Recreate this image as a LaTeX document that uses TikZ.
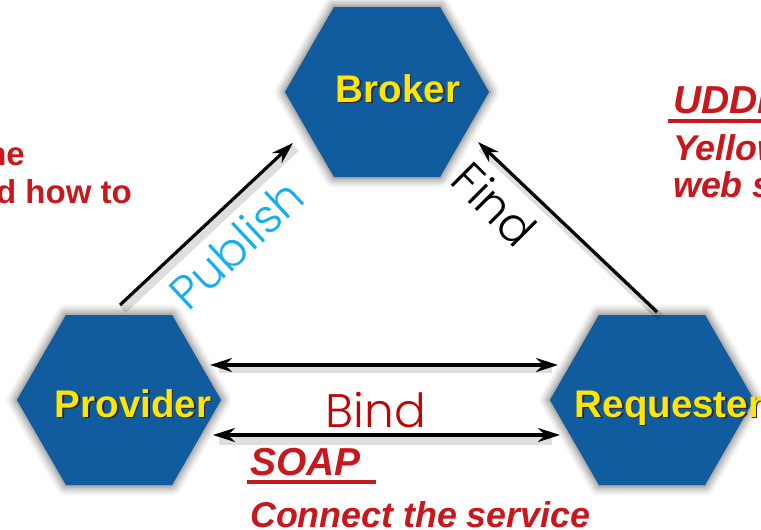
\documentclass[tikz,border=0pt]{standalone}
\usepackage{fontspec}
\setmainfont{Liberation Sans}
\newfontfamily\gothic{Poppins Light}
\usetikzlibrary{arrows.meta}
\definecolor{hexblue}{RGB}{16,92,158}
\definecolor{hexyellow}{RGB}{255,230,0}
\definecolor{notered}{RGB}{200,24,30}
\definecolor{bindred}{RGB}{190,5,5}
\definecolor{pubblue}{RGB}{20,175,240}
\newcommand\hexpath[1]{(#1) ++(-102,0) -- ++(49,-85) -- ++(106,0) -- ++(49,85) -- ++(-49,85) -- ++(-106,0) -- cycle}
\newcommand\hexdraw[1]{%
  \begin{scope}[shift={(8,10)}]
    \foreach \w/\o in {20/0.05,15/0.07,10/0.09,5/0.12}{
      \draw[black,opacity=\o,line width=\w pt,line join=round] \hexpath{#1};}
    \fill[black,opacity=0.5] \hexpath{#1};
  \end{scope}
  \fill[hexblue] \hexpath{#1};}
\newcommand\shadowed[1]{\makebox[0pt][l]{\hspace{1.6pt}\raisebox{-1.6pt}{\color{black!85}#1}}#1}
\tikzset{
  hexlabel/.style={inner sep=0pt,anchor=base,text=hexyellow,font=\fontsize{38.5}{40}\selectfont\bfseries},
  gothlabel/.style={inner sep=0pt,font=\gothic\fontsize{47}{49}\selectfont},
  noteh/.style={inner sep=0pt,anchor=base west,text=notered,font=\fontsize{39}{41}\selectfont\bfseries\itshape},
  notet/.style={inner sep=0pt,anchor=base west,text=notered,font=\fontsize{35.8}{37}\selectfont\bfseries\itshape},
  notel/.style={inner sep=0pt,anchor=base east,text=notered,font=\fontsize{33}{35}\selectfont\bfseries},
  conn/.style={black,line width=3.2pt,{Stealth[length=22pt,width=14pt]}-{Stealth[length=22pt,width=14pt]}},
  connone/.style={black,line width=3.2pt,-{Stealth[length=22pt,width=14pt]}},
  connshadow/.style={black,opacity=0.13,line width=8pt},
  rule/.style={notered,line width=4pt}
}
\begin{document}
\begin{tikzpicture}[x=1pt,y=-1pt]
\useasboundingbox (0,0) rectangle (761,530);
\clip (0,0) rectangle (761,530);
\fill[white] (0,0) rectangle (761,530);
\coordinate (B) at (387,92);
\coordinate (P) at (119,400);
\coordinate (R) at (652,400);
\hexdraw{B}
\hexdraw{P}
\hexdraw{R}
\node[hexlabel] (broker) at (398,102) {\shadowed{Broker}};
\node[hexlabel] (provider) at (133,417) {\shadowed{Provider}};
\node[hexlabel] (requester) at (669,417) {\shadowed{Requester}};
% connector shadows
\draw[connshadow] ([shift={(4,-90)}]P) -- ([shift={(-91,56)}]B);
\draw[connshadow] ([shift={(8,-83)}]R) -- ([shift={(94,56)}]B);
\draw[connshadow] ([shift={(100,-31)}]P) -- ([shift={(-100,-31)}]R);
\draw[connshadow] ([shift={(100,41)}]P) -- ([shift={(-100,41)}]R);
% connectors
\draw[connone] ([shift={(1,-95)}]P) -- ([shift={(-94,51)}]B);
\draw[connone] ([shift={(5,-88)}]R) -- ([shift={(91,50)}]B);
\draw[conn] ([shift={(91,-35)}]P) -- ([shift={(-94,-35)}]R);
\draw[conn] ([shift={(94,35)}]P) -- ([shift={(-92,35)}]R);
% connector labels
\node[gothlabel,text=pubblue,rotate=43] (publish) at (236,244) {Publish};
\node[gothlabel,text=black,rotate=-45] (find) at (495,204) {Find};
\node[gothlabel,text=bindred,anchor=base] (bind) at (376,427) {Bind};
% notes
\node[noteh] (uddi) at (673,113) {UDDI};
\draw[rule] (668,121) -- (780,121);
\node[notet] (yp) at (673,160) {Yellow pages};
\node[notet] (ws) at (673,197) {web services};
\node[noteh] (soap) at (250,475) {SOAP};
\draw[rule] (247,482) -- (376,482);
\node[notet] (connect) at (250,527) {Connect the service};
\node[notel] (the) at (25,165) {the};
\node[notel] (howto) at (132,203) {and how to};
\end{tikzpicture}
\end{document}
